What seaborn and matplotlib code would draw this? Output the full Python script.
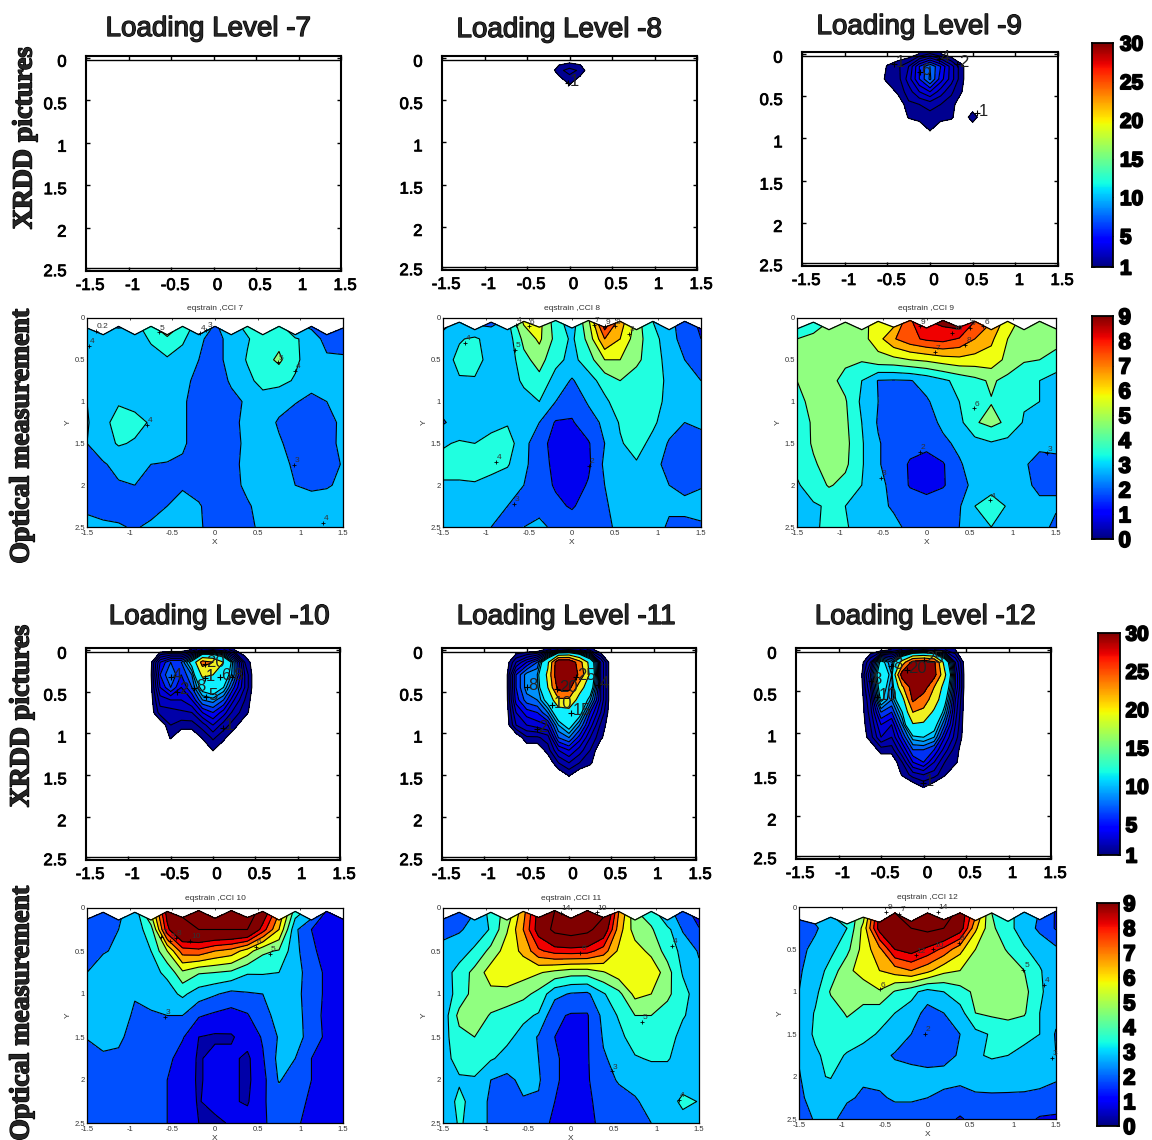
import numpy as np
import matplotlib
matplotlib.use("Agg")
import matplotlib.pyplot as plt
import matplotlib.patheffects as pe
from matplotlib.transforms import ScaledTranslation
import seaborn as sns

W, H = 1152, 1140

# optical grid
opt_x = [-1.5, -1.31, -1.13, -0.94, -0.75, -0.56, -0.38, -0.19, 0, 0.19, 0.38, 0.56, 0.75, 0.94, 1.13, 1.31, 1.5]
opt_y = [0.25, 0.5, 0.75, 1.0, 1.25, 1.5, 1.75, 2.0, 2.25, 2.5]
top_a = [0.12, 0.2, 0.1, 0.2, 0.1, 0.2, 0.1, 0.2, 0.1, 0.2, 0.1, 0.2, 0.1, 0.2, 0.1, 0.2, 0.12]
top_b = [0.13, 0.05, 0.14, 0.05, 0.14, 0.04, 0.11, 0.03, 0.12, 0.03, 0.11, 0.04, 0.14, 0.04, 0.14, 0.04, 0.13]
top_c = [0.15, 0.2, 0.12, 0.2, 0.12, 0.18, 0.07, 0.17, 0.07, 0.15, 0.07, 0.16, 0.07, 0.17, 0.06, 0.15, 0.05]

o7 = [
    [3.5, 3.5, 2.9, 3.5, 4.5, 5.3, 4.5, 3.4, 2.9, 3.3, 4.3, 4.5, 4.7, 3.4, 2.9, 2.8, 2.4],
    [3.9, 3.6, 3.6, 3.6, 4.1, 4.6, 4.2, 3.1, 2.8, 3.2, 3.9, 4.6, 4.7, 4.2, 3.3, 2.8, 2.7],
    [3.8, 3.6, 3.6, 3.6, 3.7, 3.9, 3.5, 3.0, 2.8, 3.2, 4.1, 4.6, 5.2, 4.2, 3.5, 3.1, 3.1],
    [3.4, 3.6, 3.7, 3.7, 3.6, 3.5, 3.2, 2.8, 2.6, 3.1, 3.7, 4.4, 4.3, 3.9, 3.3, 3.4, 3.3],
    [3.0, 3.5, 3.9, 3.7, 3.5, 3.4, 3.1, 2.7, 2.5, 2.8, 3.1, 3.5, 3.3, 3.05, 2.8, 3.0, 3.4],
    [2.9, 3.7, 4.4, 4.3, 3.9, 3.4, 3.1, 2.7, 2.5, 2.8, 3.2, 3.4, 2.9, 2.6, 2.5, 2.7, 3.2],
    [3.0, 3.6, 4.1, 3.9, 3.6, 3.4, 3.1, 2.7, 2.5, 2.7, 3.2, 3.4, 3.1, 2.7, 2.5, 2.6, 3.3],
    [2.8, 2.9, 3.3, 3.2, 3.0, 2.95, 2.9, 2.6, 2.4, 2.7, 3.3, 3.5, 3.2, 2.9, 2.6, 2.5, 3.1],
    [2.5, 2.9, 2.9, 3.0, 2.8, 2.8, 2.8, 2.6, 2.4, 2.7, 3.2, 3.5, 3.3, 3.0, 2.8, 2.9, 3.2],
    [2.8, 2.6, 2.6, 2.7, 2.6, 3.0, 3.6, 3.1, 2.5, 2.5, 2.9, 3.3, 3.5, 3.5, 3.5, 3.5, 3.5],
    [3.3, 3.2, 3.1, 2.9, 3.2, 3.5, 3.5, 3.1, 2.7, 2.7, 2.9, 3.1, 3.5, 3.6, 3.6, 3.5, 3.5],
]
o8 = [
    [2.9, 3.3, 3.2, 2.8, 3.5, 6.2, 6.3, 4.5, 3.5, 5.8, 9.3, 7.5, 5.5, 4.0, 3.2, 2.7, 1.8],
    [3.5, 3.9, 4.2, 3.5, 3.4, 5.3, 6.2, 4.7, 3.8, 5.3, 8.0, 7.0, 5.4, 4.4, 3.4, 2.6, 2.0],
    [3.5, 4.3, 4.4, 3.6, 3.3, 4.7, 5.4, 4.3, 3.7, 4.5, 6.0, 6.0, 5.2, 4.5, 3.6, 3.0, 2.7],
    [3.5, 3.9, 3.9, 3.5, 3.4, 4.2, 4.7, 3.6, 2.9, 3.6, 4.4, 5.0, 4.6, 4.6, 3.7, 3.4, 3.0],
    [3.4, 3.4, 3.5, 3.5, 3.4, 3.6, 4.0, 3.0, 2.4, 3.1, 3.8, 4.5, 4.6, 4.4, 3.7, 3.5, 3.4],
    [2.9, 3.4, 3.5, 3.6, 3.9, 3.4, 3.0, 1.9, 1.9, 2.6, 3.2, 4.1, 4.4, 4.2, 3.4, 3.0, 3.1],
    [3.9, 4.1, 4.0, 4.4, 4.5, 3.3, 2.4, 1.6, 1.4, 1.9, 3.0, 3.9, 4.4, 3.7, 2.9, 2.6, 2.8],
    [4.3, 4.3, 4.5, 4.3, 4.1, 3.2, 2.5, 1.7, 1.4, 1.8, 3.2, 3.5, 3.9, 3.2, 2.8, 2.6, 2.7],
    [3.9, 3.9, 3.9, 3.7, 3.4, 3.0, 2.4, 1.9, 1.5, 2.1, 3.0, 3.4, 3.5, 3.4, 3.0, 2.8, 2.9],
    [3.4, 3.4, 3.4, 3.3, 3.0, 2.8, 2.6, 2.2, 1.9, 2.4, 2.9, 3.3, 3.5, 3.5, 3.1, 3.2, 3.5],
    [3.4, 3.4, 3.3, 3.0, 2.8, 3.0, 3.3, 2.7, 2.5, 2.7, 2.9, 3.1, 3.2, 3.3, 2.9, 2.8, 2.8],
]
o9 = [
    [4.5, 4.6, 5.3, 5.4, 5.5, 6.7, 7.0, 8.9, 9.6, 10.3, 10.2, 9.0, 7.6, 6.5, 5.4, 5.2, 5.2],
    [5.0, 5.2, 5.3, 5.4, 5.6, 6.6, 7.9, 8.7, 9.2, 9.4, 8.9, 8.0, 7.2, 6.0, 5.3, 5.1, 5.2],
    [5.2, 5.4, 5.4, 5.2, 5.1, 5.6, 5.7, 6.0, 6.2, 6.5, 6.7, 6.6, 6.6, 5.7, 5.1, 5.0, 4.8],
    [5.0, 5.4, 5.3, 4.7, 4.0, 2.95, 2.9, 2.95, 3.3, 3.8, 4.3, 4.7, 5.15, 4.7, 4.3, 4.0, 3.5],
    [4.8, 5.2, 5.3, 5.1, 3.8, 3.0, 2.7, 2.6, 2.9, 3.4, 4.0, 4.5, 4.95, 4.5, 4.1, 4.0, 3.4],
    [4.6, 5.1, 5.3, 5.2, 4.0, 2.9, 2.4, 2.3, 2.6, 3.2, 3.7, 4.9, 5.3, 4.8, 3.9, 3.6, 3.5],
    [4.5, 5.1, 5.3, 5.3, 4.1, 3.1, 2.5, 2.3, 2.4, 2.8, 3.2, 3.6, 3.9, 3.7, 3.5, 3.2, 3.2],
    [4.2, 4.9, 5.3, 5.2, 4.1, 3.1, 2.5, 1.9, 1.4, 1.9, 2.9, 3.4, 3.5, 3.4, 3.1, 2.7, 2.8],
    [3.9, 4.4, 5.1, 4.7, 4.0, 3.2, 2.8, 1.9, 1.6, 1.9, 2.6, 3.3, 3.5, 3.4, 3.2, 2.8, 2.9],
    [3.6, 3.9, 4.1, 4.0, 3.7, 3.2, 2.9, 2.7, 2.5, 2.7, 2.9, 4.0, 4.6, 3.9, 3.3, 3.2, 3.1],
    [3.4, 3.8, 4.3, 4.1, 3.6, 3.3, 3.2, 2.8, 2.7, 2.8, 3.0, 3.4, 4.0, 3.6, 3.4, 3.3, 2.8],
]
o10 = [
    [2.6, 2.7, 2.9, 3.5, 5.5, 10.5, 12.0, 14.0, 13.0, 14.0, 13.0, 11.0, 7.5, 4.5, 2.9, 1.9, 1.7],
    [2.7, 2.8, 3.0, 3.5, 4.5, 9.7, 12.0, 12.0, 12.0, 12.0, 12.0, 9.5, 7.0, 3.2, 2.0, 1.6, 1.8],
    [2.8, 2.95, 3.1, 3.4, 4.0, 6.0, 8.5, 8.7, 8.0, 7.6, 6.5, 5.2, 4.9, 3.3, 2.2, 1.6, 1.7],
    [3.0, 3.3, 3.5, 3.5, 3.7, 4.2, 5.8, 5.1, 5.0, 4.8, 4.1, 4.1, 4.0, 3.4, 2.5, 1.8, 1.9],
    [3.4, 3.4, 3.3, 3.05, 3.3, 3.6, 4.2, 3.5, 3.1, 2.7, 2.9, 3.0, 3.5, 3.3, 2.5, 1.8, 1.9],
    [3.4, 3.4, 3.3, 2.9, 2.9, 3.0, 3.0, 2.1, 1.8, 1.6, 1.9, 2.9, 3.1, 3.4, 2.5, 1.7, 2.0],
    [3.05, 3.2, 3.1, 2.8, 2.7, 2.6, 2.1, 1.0, 0.85, 0.9, 1.4, 2.1, 3.1, 3.5, 2.5, 1.8, 2.0],
    [2.6, 2.9, 2.9, 2.7, 2.6, 2.3, 1.5, 0.9, 1.3, 1.2, 0.8, 1.9, 3.3, 3.0, 2.0, 1.6, 1.5],
    [2.5, 2.5, 2.5, 2.4, 2.3, 2.0, 1.4, 0.9, 1.3, 1.2, 0.8, 1.7, 3.1, 2.4, 2.0, 1.7, 1.5],
    [2.5, 2.4, 2.3, 2.4, 2.2, 2.0, 1.3, 0.95, 1.3, 1.1, 0.9, 1.9, 2.4, 2.2, 1.9, 1.6, 1.5],
    [2.4, 2.3, 2.3, 2.6, 2.5, 2.0, 1.4, 1.0, 0.8, 1.1, 1.4, 1.9, 2.3, 2.1, 1.8, 1.5, 1.4],
]
o11 = [
    [2.6, 2.7, 3.1, 4.3, 5.5, 7.6, 10.5, 12.0, 14.0, 14.0, 12.0, 8.0, 5.3, 4.6, 3.4, 2.6, 1.6],
    [2.9, 2.9, 3.3, 4.1, 5.9, 8.0, 10.6, 12.5, 13.0, 12.5, 11.0, 7.5, 5.5, 5.1, 4.3, 2.9, 2.1],
    [3.1, 3.5, 4.2, 5.3, 6.5, 7.2, 8.8, 9.4, 9.5, 9.4, 8.5, 6.8, 6.5, 5.7, 4.6, 3.7, 2.9],
    [3.5, 4.4, 5.3, 6.5, 6.6, 6.4, 6.1, 5.7, 5.4, 5.4, 5.9, 6.6, 6.9, 6.8, 5.4, 3.9, 3.2],
    [3.4, 4.4, 5.4, 5.7, 5.7, 5.3, 4.7, 3.3, 2.9, 2.8, 3.9, 4.7, 6.3, 6.0, 5.2, 4.4, 3.4],
    [3.4, 5.3, 5.6, 4.9, 4.5, 4.2, 3.9, 2.2, 1.9, 1.9, 3.3, 4.1, 5.0, 5.0, 4.6, 4.1, 3.5],
    [3.6, 4.7, 5.0, 4.5, 4.2, 3.7, 2.9, 2.0, 1.6, 1.9, 3.1, 3.7, 4.5, 4.4, 4.5, 3.6, 3.3],
    [3.7, 4.3, 4.5, 4.1, 3.7, 3.3, 3.0, 2.2, 1.5, 1.9, 2.9, 3.3, 3.9, 4.1, 4.1, 3.5, 3.4],
    [3.4, 3.9, 3.9, 3.0, 2.7, 3.3, 3.1, 2.2, 1.5, 1.9, 2.6, 3.1, 3.3, 3.4, 3.4, 3.4, 3.4],
    [3.5, 4.2, 3.7, 2.8, 2.6, 2.9, 2.9, 2.0, 1.6, 1.9, 2.2, 2.6, 2.9, 3.3, 3.4, 4.3, 3.95],
    [3.3, 4.1, 3.7, 2.8, 2.5, 2.4, 2.4, 1.8, 1.6, 1.8, 2.2, 2.5, 2.7, 3.0, 3.3, 3.5, 3.5],
]
o12 = [
    [2.9, 3.0, 3.8, 4.3, 5.7, 10.5, 12.0, 13.0, 14.0, 13.0, 11.0, 7.8, 5.0, 4.3, 3.5, 2.9, 1.9],
    [2.7, 2.9, 3.4, 4.0, 6.3, 10.5, 12.0, 12.0, 12.5, 12.0, 10.7, 7.2, 5.2, 4.3, 3.5, 2.8, 1.9],
    [2.8, 3.2, 3.7, 4.7, 6.4, 7.7, 10.0, 10.5, 9.7, 8.7, 7.3, 6.0, 5.5, 4.9, 4.1, 3.6, 3.2],
    [2.9, 3.4, 4.4, 5.7, 6.5, 7.0, 7.5, 8.0, 7.3, 6.3, 6.0, 5.5, 5.5, 5.5, 5.0, 4.1, 3.3],
    [3.0, 3.7, 5.1, 5.6, 5.3, 5.9, 4.9, 4.3, 3.6, 4.0, 4.6, 5.2, 5.5, 5.6, 5.3, 4.2, 3.3],
    [3.1, 4.1, 4.5, 5.1, 4.8, 4.4, 4.0, 3.6, 2.6, 3.0, 3.6, 5.0, 5.2, 5.4, 5.1, 4.0, 3.3],
    [3.2, 4.2, 4.5, 4.6, 4.3, 3.9, 3.6, 3.0, 2.3, 2.7, 3.0, 3.7, 4.1, 4.2, 4.3, 4.0, 2.9],
    [3.1, 3.8, 4.4, 3.9, 3.6, 3.3, 2.9, 2.7, 2.6, 2.7, 3.1, 3.9, 4.1, 4.0, 3.7, 3.3, 3.0],
    [2.9, 3.9, 4.05, 3.3, 3.1, 3.2, 3.4, 3.4, 3.3, 3.3, 3.3, 3.4, 3.5, 3.6, 3.5, 3.4, 3.1],
    [2.9, 3.2, 3.5, 3.1, 2.9, 2.9, 3.1, 3.1, 3.0, 2.8, 2.6, 2.85, 2.85, 2.8, 2.8, 2.7, 2.7],
    [2.5, 3.1, 3.2, 2.7, 2.6, 2.5, 2.6, 2.6, 2.5, 2.3, 1.9, 2.3, 2.4, 2.3, 2.3, 1.9, 1.8],
]

# xrdd grid
xrd_x = [-0.75, -0.625, -0.5, -0.375, -0.25, -0.125, 0, 0.125, 0.25, 0.375, 0.5, 0.625]
xrd_y = [0, 0.15, 0.3, 0.45, 0.6, 0.75, 0.9, 1.05, 1.2, 1.35, 1.5, 1.65]

x8 = [
    [0, 0, 0, 0, 0, 0, 0, 0, 0, 0, 0, 0],
    [0, 0, 0, 0, 0, 1.7, 2.4, 1.8, 0, 0, 0, 0],
    [0, 0, 0, 0, 0, 0, 1.2, 0, 0, 0, 0, 0],
]
x9 = [
    [0, 0, 0, 0, 0, 1, 2, 1, 0, 0, 0, 0],
    [0, 0, 1.1, 1.8, 3, 6, 8, 6, 3.5, 1.2, 0, 0],
    [0, 0, 1.4, 1.6, 3.5, 6, 8.2, 5.5, 3.5, 1.2, 0, 0],
    [0, 0, 0, 1.3, 2.5, 4, 5, 3.5, 2.2, 1, 0, 0],
    [0, 0, 0, 0, 1.8, 2, 2.4, 2, 1.5, 0, 0, 0],
    [0, 0, 0, 0, 1.1, 1.5, 1.6, 1.5, 1.2, 0, 1.7, 0],
    [0, 0, 0, 0, 0, 0, 1.1, 0, 0, 0, 0, 0],
]
x10 = [
    [0, 0, 0, 0, 1, 3, 4, 3, 1, 0, 0, 0],
    [0, 5, 7, 7, 11, 22, 20, 15, 8, 2, 0, 0],
    [0, 6, 8, 6, 8, 16, 15, 12, 8, 3, 0, 0],
    [0, 5, 7, 5, 7, 11, 12, 10, 6, 3, 0, 0],
    [0, 3.5, 4, 4, 5, 8, 8.5, 7, 4, 2, 0, 0],
    [0, 2.5, 2.5, 2.8, 3, 5, 6, 4.5, 2.5, 1.5, 0, 0],
    [0, 0, 2, 1.5, 1.5, 2.5, 4, 2.5, 1.5, 0, 0, 0],
    [0, 0, 1.1, 0, 0, 1.1, 2.2, 1.3, 0, 0, 0, 0],
    [0, 0, 0, 0, 0, 0, 1.05, 0, 0, 0, 0, 0],
]
x11 = [
    [0, 0, 0, 0, 1.5, 3, 4, 3, 1.5, 0, 0, 0],
    [0, 3, 5, 7, 14, 30, 30, 22, 13, 4, 0, 0],
    [0, 6, 8.5, 9, 16, 30, 30, 24, 14, 4, 0, 0],
    [0, 6, 8.5, 8.5, 15, 27, 27, 17, 12, 4, 0, 0],
    [0, 5.5, 7.5, 8, 11, 19, 19, 13, 9, 4, 0, 0],
    [0, 4, 5.5, 6, 8, 12, 13, 11, 6, 3, 0, 0],
    [0, 3, 4, 4.5, 5, 9, 11, 8, 4.5, 1.8, 0, 0],
    [0, 0, 1.8, 1.8, 2.5, 7, 8, 5.5, 3, 1.2, 0, 0],
    [0, 0, 0, 0, 1.5, 4, 5, 3.5, 2, 0, 0, 0],
    [0, 0, 0, 0, 0, 2, 3, 2, 1.2, 0, 0, 0],
    [0, 0, 0, 0, 0, 0, 1.1, 0, 0, 0, 0, 0],
]
x12 = [
    [0, 0, 0, 1, 2, 3, 4, 3, 2, 1, 0, 0],
    [0, 3, 11, 8, 17, 27, 28, 26, 13, 4, 0, 0],
    [0, 5, 13, 9, 28, 30, 30, 27, 16, 5, 0, 0],
    [0, 4, 12, 8, 19, 28, 28, 20, 13, 5, 0, 0],
    [0, 3, 10.5, 8, 13, 26, 22, 18, 11, 4, 0, 0],
    [0, 2.5, 7, 6, 10, 20, 19, 14, 9, 3.5, 0, 0],
    [0, 2, 5, 4, 8, 14.5, 14, 11, 7, 3, 0, 0],
    [0, 1.5, 4, 3, 6, 9.5, 10, 9, 5, 2.5, 0, 0],
    [0, 0, 1.5, 1.5, 4, 7, 7, 6, 3.5, 1.5, 0, 0],
    [0, 0, 0, 0, 2, 5, 6, 4, 2, 1.2, 0, 0],
    [0, 0, 0, 0, 1.1, 2.5, 3, 2.5, 1.1, 0, 0, 0],
    [0, 0, 0, 0, 0, 0, 1.05, 0, 0, 0, 0, 0],
]

# contour levels and band colours
opt_levels = [-1, 1, 2, 3, 4, 5, 6, 7, 8, 9, 10, 12, 14, 20]
opt_colors = ["#0000a8", "#0000f0", "#0050ff", "#00c0ff", "#20ffe0", "#90ff80", "#f0ff10",
              "#ffb000", "#ff5000", "#f00000", "#800000", "#800000", "#800000"]
xrd_levels = [1, 2, 3, 4, 5, 6, 7, 8, 9, 10, 15, 20, 25, 40]

# contour label text, x, y
o7_labels = [("0.2", -1.4, 0.15), ("4", -1.48, 0.33), ("5", -0.66, 0.17), ("4", -0.18, 0.18), ("3", -0.1, 0.14),
             ("5", 0.74, 0.53), ("4", 0.94, 0.63), ("4", -0.8, 1.28), ("3", 0.92, 1.76), ("4", 1.27, 2.45)]
o8_labels = [("4", -1.25, 0.3), ("5", -0.66, 0.38), ("6", -0.5, 0.1), ("4", -0.65, 0.08), ("7", 0.25, 0.08),
             ("9", 0.38, 0.1), ("8", 0.5, 0.1), ("5", 0.66, 0.19), ("4", -0.88, 1.72), ("2", 0.2, 1.77), ("3", -0.68, 2.22)]
o9_labels = [("9", -0.08, 0.1), ("10", 0.3, 0.18), ("5", 0.5, 0.12), ("6", 0.66, 0.1), ("8", 0.45, 0.32), ("7", 0.1, 0.41),
             ("6", 0.55, 1.08), ("2", -0.08, 1.6), ("3", -0.53, 1.91), ("3", 1.39, 1.62), ("4", 0.74, 2.18)]
o10_labels = [("7", -0.63, 0.34), ("9", -0.53, 0.38), ("8", -0.46, 0.35), ("10", -0.29, 0.38), ("6", 0.48, 0.45),
              ("5", 0.64, 0.53), ("3", -0.59, 1.27)]
o11_labels = [("14", -0.12, 0.06), ("10", 0.3, 0.05), ("6", 0.11, 0.52), ("4", 1.18, 0.44), ("5", 0.83, 1.32),
              ("3", 0.48, 1.9), ("4", 1.26, 2.23)]
o12_labels = [("9", -0.48, 0.06), ("7", -0.33, 0.08), ("14", 0.12, 0.06), ("12", -0.14, 0.57), ("10", 0.07, 0.5),
              ("8", 0.37, 0.42), ("6", -0.56, 0.97), ("5", 1.12, 0.74), ("4", 1.36, 0.92), ("2", -0.03, 1.5), ("3", 1.45, 1.78)]
x8_labels = [("1", -0.02, 0.3)]
x9_labels = [("1", -0.42, 0.12), ("6", -0.12, 0.22), ("2", 0.32, 0.12), ("1", 0.55, 0.7), ("4", 0.1, 0.06)]
x10_labels = [("20", -0.1, 0.17), ("1", -0.1, 0.34), ("4", -0.5, 0.33), ("2", -0.42, 0.5), ("8", -0.22, 0.46),
              ("5", -0.08, 0.57), ("6", 0.08, 0.33), ("8", 0.22, 0.33), ("1", 0.12, 0.93)]
x11_labels = [("8", -0.5, 0.45), ("25", 0.08, 0.33), ("4", 0.34, 0.42), ("20", -0.14, 0.47), ("10", -0.2, 0.66),
              ("15", 0.02, 0.75), ("2", -0.38, 0.95)]
x12_labels = [("8", -0.62, 0.38), ("10", -0.55, 0.57), ("20", -0.2, 0.24), ("25", 0.0, 0.12), ("8", -0.38, 0.2), ("1", -0.01, 1.6)]

titles_xrd = ["Loading Level -7", "Loading Level -8", "Loading Level -9",
              "Loading Level -10", "Loading Level -11", "Loading Level -12"]
xticks = [-1.5, -1, -0.5, 0, 0.5, 1, 1.5]
yticks = [0, 0.5, 1, 1.5, 2, 2.5]
tick_txt_x = ["-1.5", "-1", "-0.5", "0", "0.5", "1", "1.5"]
tick_txt_y = ["0", "0.5", "1", "1.5", "2", "2.5"]
xrd_cbar_ticks = [30, 25, 20, 15, 10, 5, 1]
opt_cbar_ticks = [9, 8, 7, 6, 5, 4, 3, 2, 1, 0]

sns.set_style("white")
plt.rcParams["font.family"] = ["Liberation Sans", "DejaVu Sans"]
xrd_colors = sns.blend_palette(["#000090", "#0000f0", "#00c0ff"], 9) + ["#10f0ff", "#f0f020", "#ff7000", "#8b0000"]

fig = plt.figure(figsize=(W / 100, H / 100), dpi=100)
ghost = [pe.withStroke(linewidth=0.6, foreground="black")]
title_fx = [pe.withStroke(linewidth=0.9, foreground="black")]
side_fx = [pe.withStroke(linewidth=1.0, foreground="black")]
heavy = [pe.withStroke(linewidth=1.3, foreground="black")]


def px_axes(left, right, top, bottom):
    return fig.add_axes([left / W, 1 - bottom / H, (right - left) / W, (bottom - top) / H])


def xrd_panel(box, title, title_xy, rows, labels):
    ax = px_axes(*box)
    if rows is not None:
        z = np.zeros((len(xrd_y), len(xrd_x)))
        z[:len(rows)] = rows
        ax.contourf(xrd_x, xrd_y, z, levels=xrd_levels, colors=xrd_colors)
        ax.contour(xrd_x, xrd_y, z, levels=xrd_levels[:-1], colors="black", linewidths=0.8)
    ax.axhline(0.03, color="black", lw=1.0)
    ax.axhline(2.47, color="black", lw=1.0)
    ax.set_xlim(-1.5, 1.5)
    ax.set_ylim(2.51, -0.02)
    ax.set_xticks(xticks, tick_txt_x)
    ax.set_yticks(yticks, tick_txt_y)
    ax.tick_params(direction="in", length=3, width=1, top=True, right=True, bottom=True, left=True,
                   labelsize=12, pad=14, colors="black")
    ax.tick_params(axis="x", pad=5)
    shift_x = ScaledTranslation(4 / 100, 0, fig.dpi_scale_trans)
    shift_y = ScaledTranslation(0, -3 / 100, fig.dpi_scale_trans)
    for lab in ax.get_xticklabels():
        lab.set_path_effects(ghost)
        lab.set_transform(lab.get_transform() + shift_x)
    for lab in ax.get_yticklabels():
        lab.set_path_effects(ghost)
    for lab in ax.get_yticklabels()[:-1]:
        lab.set_transform(lab.get_transform() + shift_y)
    for sp in ax.spines.values():
        sp.set_visible(True)
        sp.set_color("black")
        sp.set_linewidth(1.5)
    for txt, x, y in labels:
        ax.plot(x, y, "k+", ms=5, mew=0.8)
        ax.text(x + 0.02, y - 0.02, txt, fontsize=12, color="#222222", ha="left", va="center")
    fig.text(title_xy[0] / W, 1 - title_xy[1] / H, title, fontsize=20, ha="center", va="center",
             path_effects=title_fx)
    return ax


def opt_panel(box, title, rows, top_edge, labels):
    ax = px_axes(*box)
    xx = np.tile(opt_x, (len(opt_y) + 1, 1))
    yy = np.vstack([top_edge] + [np.full(len(opt_x), v) for v in opt_y])
    z = np.array(rows)
    ax.contourf(xx, yy, z, levels=opt_levels, colors=opt_colors)
    ax.contour(xx, yy, z, levels=opt_levels[1:-1], colors="black", linewidths=0.8)
    ax.plot(opt_x, top_edge, color="black", lw=0.9)
    ax.set_xlim(-1.5, 1.5)
    ax.set_ylim(2.5, 0)
    ax.set_xticks(xticks, tick_txt_x)
    ax.set_yticks(yticks, tick_txt_y)
    ax.tick_params(direction="in", length=1.5, width=0.6, top=True, right=True, bottom=True, left=True,
                   labelsize=5.5, pad=1.5, labelcolor="#333333")
    ax.tick_params(axis="x", pad=2.5)
    ax.set_xlabel("X", fontsize=6, labelpad=0.8, color="#333333")
    ax.set_ylabel("Y", fontsize=6, labelpad=2, color="#333333")
    ax.set_title(title, fontsize=6, pad=5.5, color="#333333")
    for sp in ax.spines.values():
        sp.set_visible(True)
        sp.set_color("black")
        sp.set_linewidth(0.9)
    for txt, x, y in labels:
        ax.plot(x, y, "k+", ms=3, mew=0.6)
        ax.text(x + 0.01, y - 0.05, txt, fontsize=6, color="#333333", ha="left", va="center")
    return ax


def cbar(box, vmin, vmax, ticks, size, pad):
    ax = px_axes(*box)
    grad = np.linspace(vmax, vmin, 256)[:, None]
    sns.heatmap(grad, ax=ax, cmap="jet", vmin=vmin, vmax=vmax, cbar=False, xticklabels=False, yticklabels=False)
    ax.yaxis.tick_right()
    ax.set_yticks([(vmax - t) / (vmax - vmin) * 256 for t in ticks], [str(t) for t in ticks])
    ax.tick_params(axis="y", direction="in", length=2, width=0.7, labelsize=size, pad=pad, right=True, left=True,
                   colors="black")
    for lab in ax.get_yticklabels():
        lab.set_fontweight("bold")
        lab.set_path_effects(heavy)
    for sp in ax.spines.values():
        sp.set_visible(True)
        sp.set_color("black")
        sp.set_linewidth(1.3)


# xrdd panels
xrd_panel((86, 341, 56, 271), titles_xrd[0], (208, 29), None, [])
xrd_panel((442, 697, 56, 270), titles_xrd[1], (559, 30), x8, x8_labels)
xrd_panel((802, 1058, 52, 266), titles_xrd[2], (919, 27), x9, x9_labels)
xrd_panel((86, 340, 648, 860), titles_xrd[3], (219, 617), x10, x10_labels)
xrd_panel((442, 696, 648, 860), titles_xrd[4], (566, 617), x11, x11_labels)
xrd_panel((796, 1051, 648, 859), titles_xrd[5], (925, 617), x12, x12_labels)

# optical panels
opt_panel((87, 343, 318, 527), "eqstrain ,CCI 7", o7, top_a, o7_labels)
opt_panel((443, 701, 318, 527), "eqstrain ,CCI 8", o8, top_b, o8_labels)
opt_panel((797, 1056, 318, 527), "eqstrain ,CCI 9", o9, top_b, o9_labels)
opt_panel((87, 343, 908, 1123), "eqstrain ,CCI 10", o10, top_b, o10_labels)
opt_panel((443, 699, 908, 1123), "eqstrain ,CCI 11", o11, top_b, o11_labels)
opt_panel((799, 1056, 907, 1119), "eqstrain ,CCI 12", o12, top_c, o12_labels)

# colour bars
cbar((1092, 1113, 43, 267), 1, 30, xrd_cbar_ticks, 15, 5)
cbar((1092, 1113, 316, 539), 0, 9, opt_cbar_ticks, 16, 4)
cbar((1098, 1120, 633, 855), 1, 30, xrd_cbar_ticks, 15, 4)
cbar((1097, 1119, 903, 1126), 0, 9, opt_cbar_ticks, 16, 3)

# row labels
for txt, x, y in [("XRDD pictures", 25, 138), ("Optical measurement", 22, 436),
                  ("XRDD pictures", 22, 716), ("Optical measurement", 22, 1013)]:
    fig.text(x / W, 1 - y / H, txt, rotation=90, ha="center", va="center", fontsize=20,
             family=["Liberation Serif", "DejaVu Serif"], weight="bold", path_effects=side_fx)

fig.savefig("out.png", dpi=100)
